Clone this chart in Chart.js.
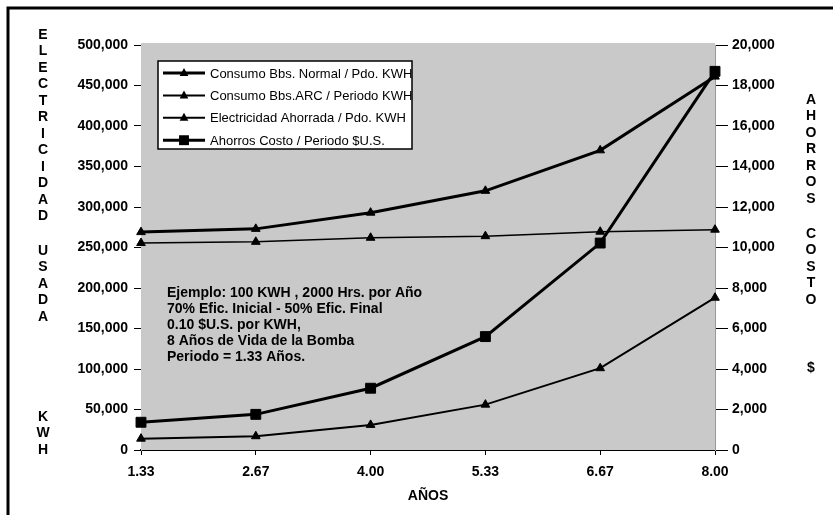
<!DOCTYPE html>
<html>
<head>
<meta charset="utf-8">
<script src="https://cdn.jsdelivr.net/npm/chart.js@4.4.0/dist/chart.umd.min.js"></script>
<style>
html, body { margin: 0; padding: 0; background: #fff; }
#wrap { width: 833px; height: 515px; }
</style>
</head>
<body>
<div id="wrap"><canvas id="ahorrosChart" width="833" height="515"></canvas></div>
<script>
const years = ['1.33', '2.67', '4.00', '5.33', '6.67', '8.00'];
const consumoNormal = [269000, 273000, 293000, 320000, 370000, 461000];
const consumoArc = [255500, 257000, 262000, 264000, 269500, 272000];
const electricidadAhorrada = [14000, 17000, 31000, 56000, 101000, 188000];
const ahorrosCosto = [1370, 1760, 3050, 5600, 10220, 18700];

const seriesLabels = [
    'Consumo Bbs. Normal / Pdo. KWH',
    'Consumo Bbs.ARC / Periodo KWH',
    'Electricidad Ahorrada / Pdo. KWH',
    'Ahorros Costo / Periodo $U.S.'
];
const noteLines = [
    'Ejemplo: 100 KWH , 2000 Hrs. por Año',
    '70% Efic. Inicial - 50% Efic. Final',
    '0.10 $U.S. por KWH,',
    '8 Años de Vida de la Bomba',
    'Periodo = 1.33 Años.'
];
const leftTitle = ['ELECTRICIDAD', 'USADA', 'KWH'];
const rightTitle = ['AHORROS', 'COSTO', '$'];

const fontFamily = '"Liberation Sans", Arial, sans-serif';

function fmt(v) {
    return Number(v).toLocaleString('en-US');
}

const plotBackground = {
    id: 'plotBackground',
    beforeDatasetsDraw(chart) {
        const { ctx, chartArea } = chart;
        ctx.save();
        ctx.fillStyle = '#c9c9c9';
        ctx.fillRect(chartArea.left, chartArea.top - 2, chartArea.right - chartArea.left, chartArea.bottom - chartArea.top + 2);
        ctx.restore();
    }
};

function drawMarker(ctx, style, x, y, r) {
    ctx.beginPath();
    if (style === 'rect') {
        const s = r * Math.SQRT1_2;
        ctx.rect(x - s, y - s, s * 2, s * 2);
    } else {
        ctx.moveTo(x, y - r);
        ctx.lineTo(x + r * 0.87, y + r * 0.6);
        ctx.lineTo(x - r * 0.87, y + r * 0.6);
        ctx.closePath();
    }
    ctx.fill();
}

const extras = {
    id: 'extras',
    afterDraw(chart) {
        const ctx = chart.ctx;
        ctx.save();

        // legend box
        ctx.fillStyle = '#fff';
        ctx.fillRect(158, 61, 254, 88);
        ctx.strokeStyle = '#000';
        ctx.lineWidth = 1.5;
        ctx.strokeRect(158, 61, 254, 88);
        chart.data.datasets.forEach((ds, i) => {
            const y = 73 + i * 22.4;
            ctx.strokeStyle = '#000';
            ctx.lineWidth = Math.max(ds.borderWidth, 2);
            ctx.beginPath();
            ctx.moveTo(163, y);
            ctx.lineTo(205, y);
            ctx.stroke();
            ctx.fillStyle = '#000';
            drawMarker(ctx, ds.pointStyle, 184, y, ds.pointRadius);
            ctx.font = '13px ' + fontFamily;
            ctx.textBaseline = 'middle';
            ctx.textAlign = 'left';
            ctx.fillText(ds.label, 210, y + 1);
        });

        // note text
        ctx.fillStyle = '#000';
        ctx.font = 'bold 14px ' + fontFamily;
        ctx.textBaseline = 'middle';
        ctx.textAlign = 'left';
        noteLines.forEach((t, i) => ctx.fillText(t, 167, 293 + i * 16));

        // stacked axis titles
        ctx.textAlign = 'center';
        const leftStarts = [35, 251, 417];
        leftTitle.forEach((word, w) => {
            word.split('').forEach((ch, i) => ctx.fillText(ch, 43, leftStarts[w] + i * 16.5));
        });
        const rightStarts = [100, 234, 368];
        rightTitle.forEach((word, w) => {
            word.split('').forEach((ch, i) => ctx.fillText(ch, 811, rightStarts[w] + i * 16.5));
        });

        // frame
        ctx.strokeStyle = '#000';
        ctx.lineWidth = 3;
        ctx.beginPath();
        ctx.moveTo(8, 515);
        ctx.lineTo(8, 8);
        ctx.lineTo(833, 8);
        ctx.stroke();
        ctx.restore();
    }
};

const tickFont = { family: fontFamily, size: 14, weight: 'bold' };

const ctx = document.getElementById('ahorrosChart').getContext('2d');
const ahorrosChart = new Chart(ctx, {
    type: 'line',
    data: {
        labels: years,
        datasets: [{
            label: seriesLabels[0],
            data: consumoNormal,
            yAxisID: 'y',
            borderColor: '#000',
            backgroundColor: '#000',
            borderWidth: 3,
            pointStyle: 'triangle',
            pointRadius: 5,
            pointBorderWidth: 1
        }, {
            label: seriesLabels[1],
            data: consumoArc,
            yAxisID: 'y',
            borderColor: '#000',
            backgroundColor: '#000',
            borderWidth: 1.5,
            pointStyle: 'triangle',
            pointRadius: 5,
            pointBorderWidth: 1
        }, {
            label: seriesLabels[2],
            data: electricidadAhorrada,
            yAxisID: 'y',
            borderColor: '#000',
            backgroundColor: '#000',
            borderWidth: 2,
            pointStyle: 'triangle',
            pointRadius: 5,
            pointBorderWidth: 1
        }, {
            label: seriesLabels[3],
            data: ahorrosCosto,
            yAxisID: 'y2',
            borderColor: '#000',
            backgroundColor: '#000',
            borderWidth: 3,
            pointStyle: 'rect',
            pointRadius: 7,
            pointBorderWidth: 1
        }]
    },
    options: {
        responsive: false,
        animation: false,
        devicePixelRatio: 1,
        layout: { padding: { top: 45, left: 0, right: 0, bottom: 0 } },
        plugins: {
            legend: { display: false },
            tooltip: { enabled: false }
        },
        scales: {
            x: {
                type: 'category',
                offset: false,
                grid: { drawOnChartArea: false, tickLength: 5, color: '#000', tickWidth: 1 },
                border: { display: true, color: '#000', width: 2 },
                ticks: { font: tickFont, color: '#000', padding: 9, maxRotation: 0 },
                title: {
                    display: true,
                    text: 'AÑOS',
                    font: tickFont,
                    color: '#000',
                    padding: { top: 6, bottom: 10 }
                },
                afterFit(scale) { scale.height = 65; }
            },
            y: {
                type: 'linear',
                position: 'left',
                min: 0,
                max: 500000,
                ticks: { stepSize: 50000, font: tickFont, color: '#000', padding: 6, callback: v => fmt(v) },
                grid: { drawOnChartArea: false, tickLength: 7, color: '#000' },
                border: { display: true, color: '#999', width: 1 },
                afterFit(scale) { scale.width = 141; }
            },
            y2: {
                type: 'linear',
                position: 'right',
                min: 0,
                max: 20000,
                ticks: { stepSize: 2000, font: tickFont, color: '#000', padding: 4, callback: v => fmt(v) },
                grid: { drawOnChartArea: false, tickLength: 13, color: '#000' },
                border: { display: true, color: '#999', width: 1 },
                afterFit(scale) { scale.width = 118; }
            }
        }
    },
    plugins: [plotBackground, extras]
});
</script>
</body>
</html>
